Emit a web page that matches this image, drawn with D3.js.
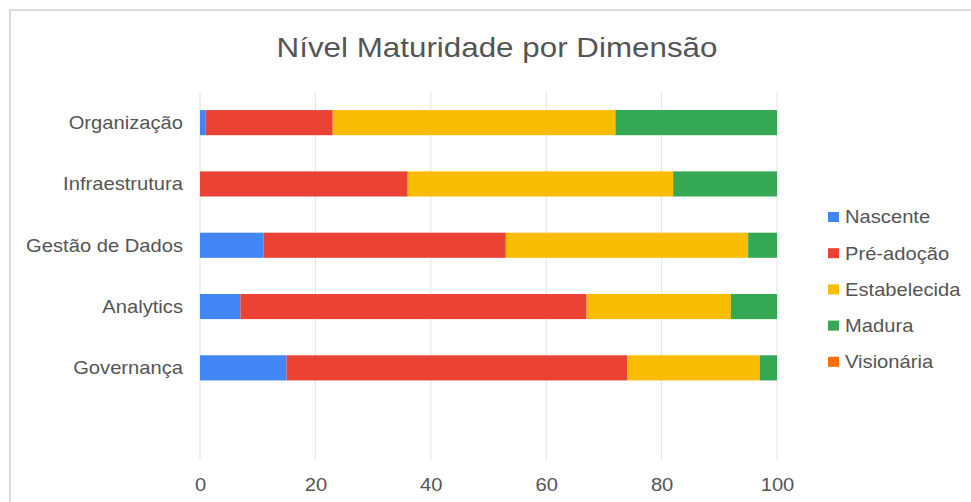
<!DOCTYPE html>
<html>
<head>
<meta charset="utf-8">
<script src="https://cdn.jsdelivr.net/npm/d3@7"></script>
<style>
  body { margin: 0; background: #fff; }
  svg { display: block; font-family: "Liberation Sans", Arial, sans-serif; }
</style>
</head>
<body>
<div id="chart"></div>
<script>
// data
const categories = ["Organização", "Infraestrutura", "Gestão de Dados", "Analytics", "Governança"];
const seriesNames = ["Nascente", "Pré-adoção", "Estabelecida", "Madura", "Visionária"];
const nascente = [1, 0, 11, 7, 15];
const preAdocao = [22, 36, 42, 60, 59];
const estabelecida = [49, 46, 42, 25, 23];
const madura = [28, 18, 5, 8, 3];
const visionaria = [0, 0, 0, 0, 0];
const seriesColors = ["#4285F4", "#EA4335", "#FBBC04", "#34A853", "#FF6D01"];
const xTicks = [0, 20, 40, 60, 80, 100];

const width = 971, height = 502;
const stretch = 1.12; // the reference text is slightly wide
const textColor = "#555";

const rows = categories.map((c, i) => ({
    category: c,
    "Nascente": nascente[i],
    "Pré-adoção": preAdocao[i],
    "Estabelecida": estabelecida[i],
    "Madura": madura[i],
    "Visionária": visionaria[i]
}));

const svg = d3.select("#chart").append("svg")
    .attr("width", width)
    .attr("height", height);

// card frame
svg.append("rect")
    .attr("x", 10).attr("y", 10)
    .attr("width", 1000).attr("height", 600)
    .attr("fill", "none")
    .attr("stroke", "#dcdcdc")
    .attr("stroke-width", 2);

const plotTop = 92, plotBottom = 460;
const step = 61.3;

const x = d3.scaleLinear()
    .domain([0, 100])
    .range([200, 777]);

const y = d3.scaleBand()
    .domain(categories)
    .range([plotTop, plotTop + step * categories.length])
    .paddingInner(0.59)
    .paddingOuter(0.295);

// gridlines
svg.append("g")
    .selectAll("line")
    .data(xTicks)
    .enter()
    .append("line")
    .attr("x1", d => x(d)).attr("x2", d => x(d))
    .attr("y1", plotTop).attr("y2", plotBottom)
    .attr("stroke", "#e3e3e3")
    .attr("stroke-width", 1);

// x axis labels
const xAxis = svg.append("g")
    .attr("transform", `translate(0,${plotBottom})`)
    .call(d3.axisBottom(x).tickValues(xTicks).tickSize(0).tickPadding(0));
xAxis.select(".domain").remove();
xAxis.selectAll("text")
    .attr("y", 0).attr("dy", 0)
    .attr("transform", `translate(0,31) scale(${stretch},1)`)
    .attr("fill", textColor)
    .style("font-size", "18px")
    .style("font-family", "'Liberation Sans', Arial, sans-serif");

// y axis labels
const yAxis = svg.append("g")
    .attr("transform", `translate(${x(0)},0)`)
    .call(d3.axisLeft(y).tickSize(0).tickPadding(0));
yAxis.select(".domain").remove();
yAxis.selectAll("text")
    .attr("x", 0)
    .attr("dy", "0.35em")
    .attr("transform", `translate(-17,0) scale(${stretch},1)`)
    .attr("fill", textColor)
    .style("font-size", "18px")
    .style("font-family", "'Liberation Sans', Arial, sans-serif");

// stacked bars
const stacked = d3.stack().keys(seriesNames)(rows);

svg.append("g")
    .selectAll("g")
    .data(stacked)
    .enter()
    .append("g")
    .attr("fill", (d, i) => seriesColors[i])
    .selectAll("rect")
    .data(d => d)
    .enter()
    .append("rect")
    .attr("x", d => x(d[0]))
    .attr("y", d => y(d.data.category))
    .attr("width", d => x(d[1]) - x(d[0]))
    .attr("height", y.bandwidth());

// title
svg.append("text")
    .attr("transform", `translate(497,57) scale(${stretch},1)`)
    .attr("text-anchor", "middle")
    .attr("fill", textColor)
    .style("font-size", "28px")
    .text("Nível Maturidade por Dimensão");

// legend
const legend = svg.append("g")
    .selectAll("g")
    .data(seriesNames)
    .enter()
    .append("g")
    .attr("transform", (d, i) => `translate(828,${217 + i * 36.2})`);

legend.append("rect")
    .attr("x", 0).attr("y", -5)
    .attr("width", 11).attr("height", 10)
    .attr("fill", (d, i) => seriesColors[i]);

legend.append("text")
    .attr("transform", `translate(17,0) scale(${stretch},1)`)
    .attr("dy", "0.35em")
    .attr("fill", textColor)
    .style("font-size", "18px")
    .text(d => d);
</script>
</body>
</html>
